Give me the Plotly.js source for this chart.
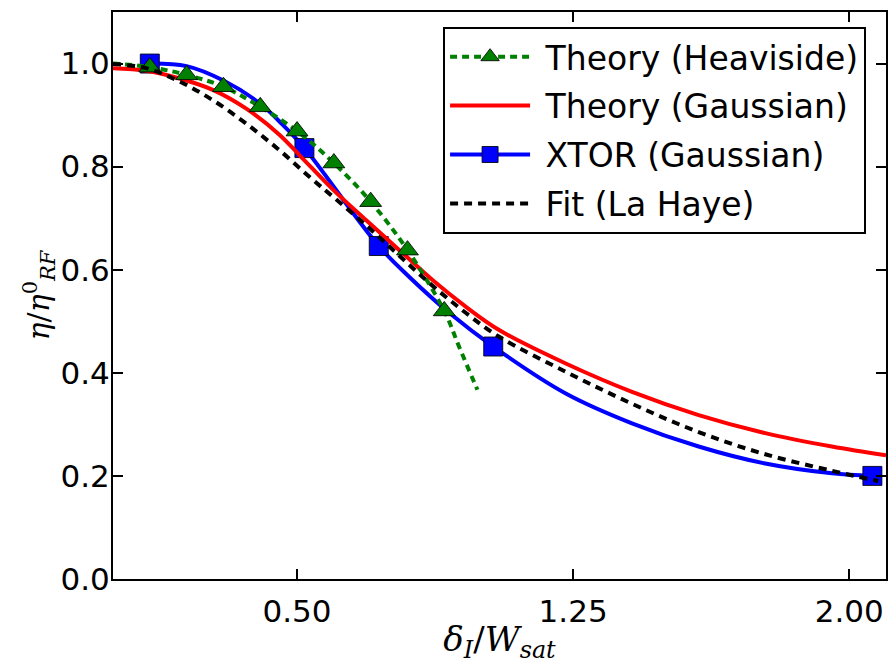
<!DOCTYPE html>
<html>
<head>
<meta charset="utf-8">
<script src="https://cdn.plot.ly/plotly-3.0.1.min.js"></script>
<style>html,body{margin:0;padding:0;background:#fff;}#chart{width:888px;height:664px;}</style>
</head>
<body>
<div id="chart"></div>
<script>
// Theory (Heaviside): green dashed line, triangles at marked points
const heavX = [0, 0.1, 0.2, 0.3, 0.4, 0.5, 0.6, 0.7, 0.8, 0.9, 0.94, 0.99];
const heavY = [1.0, 0.993, 0.978, 0.955, 0.916, 0.869, 0.807, 0.732, 0.638, 0.520, 0.451, 0.367];
const heavMarked = [0, 1, 1, 1, 1, 1, 1, 1, 1, 1, 0, 0];

// Theory (Gaussian): red solid line
const gaussX = [0, 0.09, 0.181, 0.271, 0.361, 0.452, 0.507, 0.597, 0.688, 0.778, 0.868, 0.959, 1.049, 1.23, 1.41, 1.591, 1.772, 1.953, 2.1];
const gaussY = [0.991, 0.986, 0.971, 0.949, 0.913, 0.862, 0.822, 0.756, 0.696, 0.638, 0.580, 0.528, 0.483, 0.418, 0.363, 0.318, 0.283, 0.257, 0.240];

// XTOR (Gaussian): blue line, squares at simulation points
const xtorX = [0.1, 0.2, 0.3, 0.4, 0.46, 0.52, 0.722, 0.805, 0.914, 1.033, 1.23, 1.41, 1.591, 1.772, 1.953, 2.063];
const xtorY = [1.0, 0.995, 0.967, 0.922, 0.882, 0.836, 0.646, 0.586, 0.516, 0.451, 0.360, 0.302, 0.257, 0.224, 0.205, 0.200];
const xtorMarked = [1, 0, 0, 0, 0, 1, 1, 0, 0, 1, 0, 0, 0, 0, 0, 1];

// Fit (La Haye): black dashed line
const fitX = [0, 0.09, 0.181, 0.271, 0.361, 0.452, 0.542, 0.597, 0.688, 0.778, 0.868, 0.959, 1.049, 1.23, 1.41, 1.591, 1.772, 1.953, 2.079];
const fitY = [0.999, 0.991, 0.965, 0.929, 0.884, 0.832, 0.775, 0.742, 0.686, 0.627, 0.569, 0.516, 0.470, 0.402, 0.340, 0.285, 0.242, 0.210, 0.190];

const names = ['Theory (Heaviside)', 'Theory (Gaussian)', 'XTOR (Gaussian)', 'Fit (La Haye)'];
const xTicks = [0.5, 1.25, 2.0];
const yTicks = [0.0, 0.2, 0.4, 0.6, 0.8, 1.0];
const xRange = [0, 2.1];
const yRange = [0, 1.1];

const pick = (arr, flags) => arr.filter((_, i) => flags[i]);
const edge = {color: 'rgba(0,0,0,0.85)', width: 1};

const green = {line: {color: '#008000', width: 4, dash: '7px,5px'}, marker: {symbol: 'triangle-up', size: 19, color: '#008000', opacity: 1, line: edge}};
const red = {line: {color: '#ff0000', width: 4}};
const blue = {line: {color: '#0000ff', width: 4}, marker: {symbol: 'square', size: 19, color: '#0000ff', opacity: 1, line: edge}};
const black = {line: {color: '#000000', width: 4, dash: '8px,6px'}};

const sp = {shape: 'spline', smoothing: 1};
const pad = '\u00a0';

const traces = [
  // data traces (drawn)
  {x: xtorX, y: xtorY, mode: 'lines', type: 'scatter', showlegend: false,
   line: Object.assign({}, blue.line, sp)},
  {x: pick(xtorX, xtorMarked), y: pick(xtorY, xtorMarked), mode: 'markers', type: 'scatter', showlegend: false,
   marker: blue.marker},
  {x: gaussX, y: gaussY, mode: 'lines', type: 'scatter', showlegend: false,
   line: Object.assign({}, red.line, sp)},
  {x: heavX, y: heavY, mode: 'lines', type: 'scatter', showlegend: false,
   line: Object.assign({}, green.line, sp)},
  {x: pick(heavX, heavMarked), y: pick(heavY, heavMarked), mode: 'markers', type: 'scatter', showlegend: false,
   marker: green.marker},
  {x: fitX, y: fitY, mode: 'lines', type: 'scatter', showlegend: false,
   line: Object.assign({}, black.line, sp)},
  // legend entries (no data points; they live on the label axis)
  {x: [null], y: [null], yaxis: 'y2', name: pad + names[0], legendgroup: 'a', mode: 'lines+markers', type: 'scatter', line: green.line, marker: Object.assign({}, green.marker, {size: 16})},
  {x: [null], y: [null], yaxis: 'y2', name: pad + names[1], legendgroup: 'b', mode: 'lines', type: 'scatter', line: red.line},
  {x: [null], y: [null], yaxis: 'y2', name: pad + names[2], legendgroup: 'c', mode: 'lines+markers', type: 'scatter', line: blue.line, marker: Object.assign({}, blue.marker, {size: 16})},
  {x: [null], y: [null], yaxis: 'y2', name: pad + names[3], legendgroup: 'd', mode: 'lines', type: 'scatter', line: black.line}
];

const tickFont = {family: 'DejaVu Sans', size: 31, color: '#000'};

const layout = {
  width: 888, height: 664,
  margin: {l: 113, r: 2, t: 12, b: 85},
  paper_bgcolor: '#fff', plot_bgcolor: '#fff',
  showlegend: true,
  legend: {
    x: 0.427, xanchor: 'left', y: 0.974, yanchor: 'top',
    bgcolor: '#fff', bordercolor: '#000', borderwidth: 2,
    font: {family: 'DejaVu Sans', size: 33, color: '#000'},
    traceorder: 'grouped', tracegroupgap: 3, itemwidth: 80
  },
  xaxis: {
    range: xRange, tickvals: xTicks, tickformat: '.2f',
    ticks: 'inside', ticklen: 10, tickwidth: 2, tickcolor: '#000',
    showline: true, linecolor: '#000', linewidth: 2, mirror: 'ticks',
    showgrid: false, zeroline: false, tickfont: tickFont, ticklabelstandoff: 4,
    title: {text: '<i>δ</i><sub><i>I</i></sub>/<i>W</i><sub><i>sat</i></sub>', font: {family: 'DejaVu Serif', size: 34, color: '#000'}, standoff: 0}
  },
  yaxis: {
    range: yRange, tickvals: yTicks,
    ticks: 'inside', ticklen: 10, tickwidth: 2, tickcolor: '#000',
    showline: true, linecolor: '#000', linewidth: 2, mirror: 'ticks',
    showgrid: false, zeroline: false, showticklabels: false
  },
  yaxis2: {
    overlaying: 'y', anchor: 'free', position: 0.001, shift: -4, side: 'left',
    range: yRange, tickvals: yTicks, tickformat: '.1f',
    ticks: '', ticklen: 0, showline: false, showgrid: false, zeroline: false,
    tickfont: tickFont,
    title: {text: '<i>η</i>/<i>η</i><sup>0</sup><sub><i>RF</i></sub>', font: {family: 'DejaVu Serif', size: 30, color: '#000'}, standoff: 0}
  }
};

Plotly.newPlot('chart', traces, layout, {staticPlot: true, displayModeBar: false});
</script>
</body>
</html>
